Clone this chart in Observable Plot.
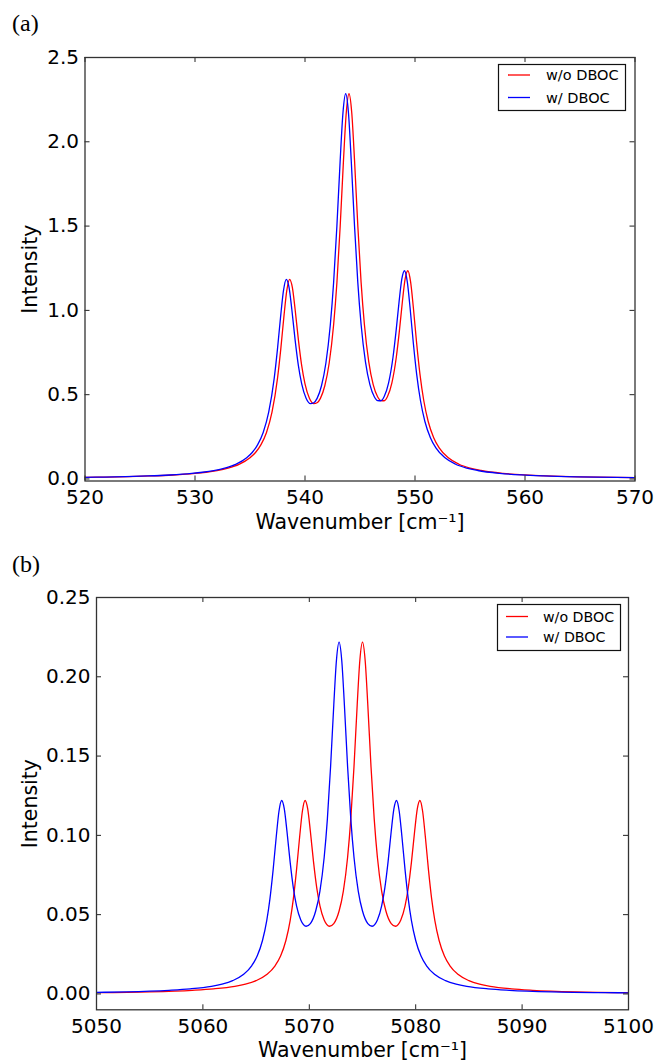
<!DOCTYPE html>
<html>
<head>
<meta charset="utf-8">
<script src="https://cdn.jsdelivr.net/npm/d3@7"></script>
<script src="https://cdn.jsdelivr.net/npm/@observablehq/plot@0.6"></script>
<style>
  body { margin: 0; background: #fff; }
  #wrap { position: relative; width: 656px; height: 1063px; font-family: "DejaVu Sans", sans-serif; background: #fff; overflow: hidden; }
  .panel { position: absolute; left: 0; }
  .tag { position: absolute; left: 12px; font-family: "Liberation Serif", serif; font-size: 24px; line-height: 1; }
  .legend { position: absolute; overflow: visible; }
</style>
</head>
<body>
<div id="wrap"></div>
<script>
// ---------- Panel (a) ----------
const aWavenumberRed = [520,522,524,526,528,530,531,532,533,534,535,535.5,536,536.5,537,537.5,537.8,538.1,538.35,538.6,538.85,539.1,539.4,539.7,540.0,540.4,540.8,541.1,541.4,541.8,542.2,542.6,542.9,543.2,543.5,543.75,544.0,544.25,544.5,544.8,545.1,545.4,545.8,546.2,546.6,546.9,547.2,547.5,547.9,548.3,548.6,548.85,549.1,549.35,549.6,549.85,550.15,550.45,550.8,551.2,551.7,552.2,553,554,555,556,558,560,562,565,570];
const aIntensityRed = [0.0095,0.0115,0.0141,0.018,0.0237,0.0329,0.0399,0.0496,0.0639,0.0864,0.1255,0.157,0.204,0.276,0.396,0.597,0.772,0.975,1.120,1.184,1.136,1.007,0.825,0.672,0.564,0.479,0.447,0.452,0.478,0.553,0.688,0.913,1.164,1.501,1.892,2.171,2.285,2.172,1.893,1.503,1.166,0.916,0.693,0.560,0.488,0.465,0.464,0.489,0.570,0.722,0.890,1.050,1.185,1.235,1.169,1.017,0.805,0.622,0.464,0.341,0.245,0.184,0.127,0.0874,0.0647,0.0503,0.0333,0.0239,0.0182,0.0128,0.0081];
const aWavenumberBlue = [520,521.7,523.7,525.7,527.7,529.7,530.7,531.7,532.7,533.7,534.7,535.2,535.7,536.2,536.7,537.2,537.5,537.8,538.05,538.3,538.55,538.8,539.1,539.4,539.7,540.1,540.5,540.8,541.1,541.5,541.9,542.3,542.6,542.9,543.2,543.45,543.7,543.95,544.2,544.5,544.8,545.1,545.5,545.9,546.3,546.6,546.9,547.2,547.6,548.0,548.3,548.55,548.8,549.05,549.3,549.55,549.85,550.15,550.5,550.9,551.4,551.9,552.7,553.7,554.7,555.7,557.7,559.7,561.7,564.7,570];
const aIntensityBlue = [0.0097,0.0115,0.0141,0.018,0.0237,0.0329,0.0399,0.0496,0.0639,0.0864,0.1255,0.157,0.204,0.276,0.396,0.597,0.772,0.975,1.120,1.184,1.136,1.007,0.825,0.672,0.564,0.479,0.447,0.452,0.478,0.553,0.688,0.913,1.164,1.501,1.892,2.171,2.285,2.172,1.893,1.503,1.166,0.916,0.693,0.560,0.488,0.465,0.464,0.489,0.570,0.722,0.890,1.050,1.185,1.235,1.169,1.017,0.805,0.622,0.464,0.341,0.245,0.184,0.127,0.0874,0.0647,0.0503,0.0333,0.0239,0.0182,0.0128,0.0079];
const aXTicks = [520,530,540,550,560,570];
const aYTicks = [0.0,0.5,1.0,1.5,2.0,2.5];

// ---------- Panel (b) ----------
const bWavenumberRed = [5050,5055,5059,5061,5063,5064,5065,5066,5066.8,5067.3,5067.8,5068.2,5068.5,5068.8,5069.1,5069.35,5069.6,5069.85,5070.1,5070.4,5070.7,5071.0,5071.4,5071.9,5072.3,5072.8,5073.2,5073.6,5073.9,5074.2,5074.5,5074.75,5075.0,5075.25,5075.5,5075.8,5076.1,5076.4,5076.8,5077.2,5077.7,5078.1,5078.6,5079.0,5079.3,5079.6,5079.9,5080.15,5080.4,5080.65,5080.9,5081.2,5081.5,5081.8,5082.2,5082.7,5083.2,5084,5085,5086,5087,5089,5091,5095,5100];
const bIntensityRed = [0.0008,0.0013,0.0023,0.0032,0.0048,0.0062,0.0084,0.0122,0.0179,0.0239,0.0337,0.0462,0.0599,0.0782,0.0996,0.1152,0.1220,0.1167,0.1026,0.0831,0.0669,0.0555,0.0466,0.0427,0.0444,0.0523,0.0649,0.0862,0.1104,0.1433,0.1821,0.2103,0.2218,0.2103,0.1821,0.1433,0.1104,0.0862,0.0649,0.0523,0.0444,0.0427,0.0466,0.0555,0.0669,0.0831,0.1026,0.1167,0.1220,0.1152,0.0996,0.0782,0.0599,0.0462,0.0337,0.0239,0.0179,0.0122,0.0084,0.0062,0.0048,0.0032,0.0023,0.0013,0.0008];
const bWavenumberBlue = [5050,5052.8,5056.8,5058.8,5060.8,5061.8,5062.8,5063.8,5064.6,5065.1,5065.6,5066.0,5066.3,5066.6,5066.9,5067.15,5067.4,5067.65,5067.9,5068.2,5068.5,5068.8,5069.2,5069.7,5070.1,5070.6,5071.0,5071.4,5071.7,5072.0,5072.3,5072.55,5072.8,5073.05,5073.3,5073.6,5073.9,5074.2,5074.6,5075.0,5075.5,5075.9,5076.4,5076.8,5077.1,5077.4,5077.7,5077.95,5078.2,5078.45,5078.7,5079.0,5079.3,5079.6,5080.0,5080.5,5081.0,5081.8,5082.8,5083.8,5084.8,5086.8,5088.8,5092.8,5097.8,5100];
const bIntensityBlue = [0.0010,0.0013,0.0023,0.0032,0.0048,0.0062,0.0084,0.0122,0.0179,0.0239,0.0337,0.0462,0.0599,0.0782,0.0996,0.1152,0.1220,0.1167,0.1026,0.0831,0.0669,0.0555,0.0466,0.0427,0.0444,0.0523,0.0649,0.0862,0.1104,0.1433,0.1821,0.2103,0.2218,0.2103,0.1821,0.1433,0.1104,0.0862,0.0649,0.0523,0.0444,0.0427,0.0466,0.0555,0.0669,0.0831,0.1026,0.1167,0.1220,0.1152,0.0996,0.0782,0.0599,0.0462,0.0337,0.0239,0.0179,0.0122,0.0084,0.0062,0.0048,0.0032,0.0023,0.0013,0.0008,0.0007];
const bXTicks = [5050,5060,5070,5080,5090,5100];
const bYTicks = [0.00,0.05,0.10,0.15,0.20,0.25];

const seriesNames = ["w/o DBOC", "w/ DBOC"];
const seriesColors = ["#ff0000", "#0000ff"];
const yLabel = "Intensity";
const xLabel = "Wavenumber [cm\u207B\u00B9]";

const wrap = document.getElementById("wrap");

function makePanel(cfg) {
  const {top, height, ml, mr, mt, mb, xDomain, yDomain, xTicks, yTicks, yFmt, red, blue, tag, tagTop, legend} = cfg;
  const width = 656;
  const H = height - mt - mb;
  const W = width - ml - mr;
  const tickColor = "#222";
  const plot = Plot.plot({
    width, height,
    marginLeft: ml, marginRight: mr, marginTop: mt, marginBottom: mb,
    x: {domain: xDomain},
    y: {domain: yDomain},
    style: {fontFamily: "DejaVu Sans, sans-serif", fontSize: "20px", color: "#000", background: "transparent", overflow: "visible"},
    marks: [
      Plot.line(red, {x: "x", y: "y", stroke: seriesColors[0], strokeWidth: 1.3, curve: "monotone-x", clip: true}),
      Plot.line(blue, {x: "x", y: "y", stroke: seriesColors[1], strokeWidth: 1.3, curve: "monotone-x", clip: true}),
      Plot.ruleX(xTicks, {insetTop: H - 5, stroke: tickColor, strokeWidth: 1}),
      Plot.ruleX(xTicks, {insetBottom: H - 5, stroke: tickColor, strokeWidth: 1}),
      Plot.ruleY(yTicks, {insetRight: W - 5, stroke: tickColor, strokeWidth: 1}),
      Plot.ruleY(yTicks, {insetLeft: W - 5, stroke: tickColor, strokeWidth: 1}),
      Plot.frame({stroke: "#333", strokeWidth: 1.3}),
      Plot.axisX(xTicks, {tickSize: 0, tickPadding: 9, tickFormat: d => String(d), label: null}),
      Plot.axisY(yTicks, {tickSize: 0, tickPadding: 6, tickFormat: yFmt, label: null}),
      Plot.text([yLabel], {frameAnchor: "left", rotate: -90, dx: -(ml - 29.5), textAnchor: "middle", lineAnchor: "middle", fontSize: 20.5}),
      Plot.text([xLabel], {frameAnchor: "bottom", dy: 41, textAnchor: "middle", lineAnchor: "middle", fontSize: 20.5})
    ]
  });
  const holder = document.createElement("div");
  holder.className = "panel";
  holder.style.top = top + "px";
  holder.appendChild(plot);
  wrap.appendChild(holder);

  const t = document.createElement("div");
  t.className = "tag";
  t.style.top = tagTop + "px";
  t.textContent = tag;
  wrap.appendChild(t);

  // legend drawn as a small SVG overlay
  const svg = d3.select(wrap).append("svg")
    .attr("class", "legend")
    .attr("width", legend.w + 2).attr("height", legend.h + 2)
    .style("left", (legend.left - 1) + "px").style("top", (legend.top - 1) + "px");
  svg.append("rect")
    .attr("x", 1.5).attr("y", 1.5).attr("width", legend.w - 1).attr("height", legend.h - 1)
    .attr("fill", "#fff").attr("stroke", "#111").attr("stroke-width", 1.2);
  seriesNames.forEach((name, i) => {
    const y = legend.rowY[i] + 1;
    svg.append("line")
      .attr("x1", legend.lineX + 1).attr("x2", legend.lineX + 23)
      .attr("y1", y).attr("y2", y)
      .attr("stroke", seriesColors[i]).attr("stroke-width", 1.3);
    svg.append("text")
      .attr("x", legend.textX + 1).attr("y", y).attr("dy", "0.36em")
      .attr("font-family", "DejaVu Sans, sans-serif").attr("font-size", legend.fs)
      .attr("fill", "#000").text(name);
  });
}

makePanel({
  top: 0, height: 530, ml: 84.5, mr: 21.5, mt: 57, mb: 49.5,
  xDomain: [520, 570], yDomain: [-0.012, 2.5],
  xTicks: aXTicks, yTicks: aYTicks, yFmt: d3.format(".1f"),
  red: aWavenumberRed.map((x, i) => ({x, y: aIntensityRed[i]})),
  blue: aWavenumberBlue.map((x, i) => ({x, y: aIntensityBlue[i]})),
  tag: "(a)", tagTop: 11,
  legend: {left: 498, top: 64, w: 128, h: 47, lineX: 10, textX: 48, rowY: [11, 33.5], fs: 14.5}
});

makePanel({
  top: 530, height: 533, ml: 96, mr: 28, mt: 67, mb: 53.7,
  xDomain: [5050, 5100], yDomain: [-0.01, 0.25],
  xTicks: bXTicks, yTicks: bYTicks, yFmt: d3.format(".2f"),
  red: bWavenumberRed.map((x, i) => ({x, y: bIntensityRed[i]})),
  blue: bWavenumberBlue.map((x, i) => ({x, y: bIntensityBlue[i]})),
  tag: "(b)", tagTop: 552,
  legend: {left: 497, top: 604, w: 124, h: 47, lineX: 9, textX: 46, rowY: [12.5, 33], fs: 14.2}
});
</script>
</body>
</html>
